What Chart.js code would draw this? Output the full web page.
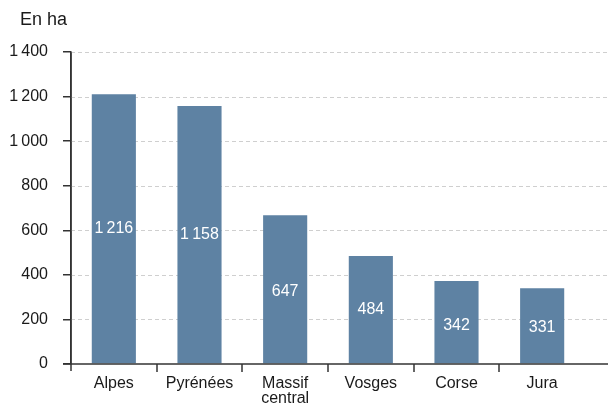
<!DOCTYPE html>
<html>
<head>
<meta charset="utf-8">
<script src="https://cdn.jsdelivr.net/npm/chart.js@4"></script>
<style>
  html, body { margin: 0; padding: 0; background: #fff; }
  #wrap { width: 608px; height: 405px; }
</style>
</head>
<body>
<div id="wrap"><canvas id="graphique"></canvas></div>
<script>
// massifs
var massifs = ['Alpes', 'Pyrénées', ['Massif', 'central'], 'Vosges', 'Corse', 'Jura'];
// hauteur des barres (en ha)
var hauteurs = [1210, 1158, 668, 485, 372, 340];
// valeurs inscrites dans les barres
var valeurs = [1216, 1158, 647, 484, 342, 331];
var graduations = [0, 200, 400, 600, 800, 1000, 1200, 1400];

var police = '"Liberation Sans", Arial, Helvetica, sans-serif';
var couleurBarre = '#5e82a3';
var couleurAxe = '#333333';

function formater(n) {
    return String(n).replace(/\B(?=(\d{3})+(?!\d))/g, '\u2009');
}

var decor = {
    id: 'decor',
    beforeDatasetsDraw(chart) {
        var ctx = chart.ctx, a = chart.chartArea, y = chart.scales.y;
        ctx.save();
        ctx.strokeStyle = '#cfcfcf';
        ctx.lineWidth = 1;
        ctx.setLineDash([4, 3]);
        graduations.forEach(function (g) {
            if (g === 0) return;
            var py = Math.round(y.getPixelForValue(g)) + 0.5;
            ctx.beginPath();
            ctx.moveTo(a.left, py);
            ctx.lineTo(chart.width, py);
            ctx.stroke();
        });
        ctx.restore();
    },
    afterDatasetsDraw(chart) {
        var ctx = chart.ctx, a = chart.chartArea, x = chart.scales.x, y = chart.scales.y;
        ctx.save();
        // axe horizontal
        ctx.strokeStyle = couleurAxe;
        ctx.lineWidth = 1.5;
        ctx.beginPath();
        ctx.moveTo(a.left - 8, a.bottom);
        ctx.lineTo(chart.width, a.bottom);
        ctx.stroke();
        // axe vertical prolongé
        ctx.beginPath();
        ctx.moveTo(a.left, a.top);
        ctx.lineTo(a.left, a.bottom + 7);
        ctx.stroke();
        // petits traits entre catégories
        var pas = (a.right - a.left) / massifs.length;
        for (var i = 1; i < massifs.length; i++) {
            var px = Math.round(a.left + pas * i);
            ctx.beginPath();
            ctx.moveTo(px, a.bottom);
            ctx.lineTo(px, a.bottom + 8);
            ctx.stroke();
        }
        // valeurs dans les barres
        ctx.fillStyle = '#ffffff';
        ctx.font = '16px ' + police;
        ctx.textAlign = 'center';
        ctx.textBaseline = 'middle';
        valeurs.forEach(function (v, i) {
            var px = x.getPixelForValue(i);
            var py = y.getPixelForValue(v / 2);
            ctx.fillText(formater(v), px, py);
        });
        // unité
        ctx.fillStyle = '#1a1a1a';
        ctx.font = '18px ' + police;
        ctx.textAlign = 'left';
        ctx.fillText('En ha', 20, 20);
        ctx.restore();
    }
};

var ctx = document.getElementById('graphique');
var graphique = new Chart(ctx, {
    type: 'bar',
    data: {
        labels: massifs,
        datasets: [{
            data: hauteurs,
            backgroundColor: couleurBarre,
            borderWidth: 0,
            categoryPercentage: 1,
            barPercentage: 0.515
        }]
    },
    options: {
        responsive: true,
        maintainAspectRatio: false,
        animation: false,
        layout: { padding: { top: 52, right: 23, left: 0, bottom: 0 } },
        plugins: {
            legend: { display: false },
            tooltip: { enabled: false }
        },
        scales: {
            x: {
                afterFit: function (s) { s.height = 41; },
                grid: { display: false },
                border: { display: false },
                ticks: {
                    color: '#1a1a1a',
                    font: { family: police, size: 16, lineHeight: 0.88 },
                    padding: 5,
                    maxRotation: 0,
                    autoSkip: false
                }
            },
            y: {
                min: 0,
                max: 1400,
                afterFit: function (s) { s.width = 71; },
                afterBuildTicks: function (s) {
                    s.ticks = graduations.map(function (g) { return { value: g }; });
                },
                grid: {
                    drawOnChartArea: false,
                    color: couleurAxe,
                    lineWidth: 1.5,
                    tickLength: 8
                },
                border: { color: couleurAxe, width: 1.5 },
                ticks: {
                    color: '#1a1a1a',
                    font: { family: police, size: 16 },
                    padding: 15,
                    callback: function (v) { return formater(v); }
                }
            }
        }
    },
    plugins: [decor]
});
</script>
</body>
</html>
